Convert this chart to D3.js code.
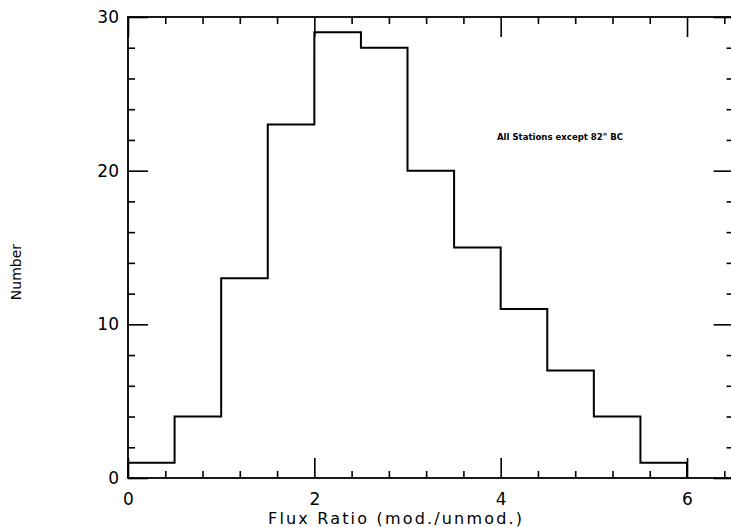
<!DOCTYPE html>
<html><head><meta charset="utf-8">
<script src="https://cdn.jsdelivr.net/npm/d3@7"></script>
<style>body{margin:0;background:#fff}svg{display:block}text{font-family:"DejaVu Sans",sans-serif;fill:#000}</style>
</head><body>
<svg id="c" width="731" height="527"></svg>
<script>
const binEdges = [0,0.5,1,1.5,2,2.5,3,3.5,4,4.5,5,5.5,6];
const counts = [1,4,13,23,29,28,20,15,11,7,4,1];
const xMajor = [0,2,4,6];
const xMinor = [0.4,0.8,1.2,1.6,2.4,2.8,3.2,3.6,4.4,4.8,5.2,5.6,6.4];
const yMajor = [0,10,20,30];
const yMinor = [2,4,6,8,12,14,16,18,22,24,26,28];
const xLabel = "Flux Ratio (mod./unmod.)";
const yLabel = "Number";
const note = "All Stations except 82\" BC";

const svg = d3.select("#c");
const x = d3.scaleLinear().domain([0,6.5]).range([128,733.6]);
const y = d3.scaleLinear().domain([0,30]).range([478,17]);
const L=128,R=733.6,T=17,B=478;

// frame
svg.append("rect").attr("x",L).attr("y",T).attr("width",R-L).attr("height",B-T)
  .attr("fill","none").attr("stroke","#000").attr("stroke-width",1.8);

function styleAxis(g){g.select(".domain").remove();g.selectAll("line").attr("stroke","#000").attr("stroke-width",1.6);}
// bottom
svg.append("g").attr("transform",`translate(0,${B})`).call(d3.axisBottom(x).tickValues(xMajor).tickSize(-20).tickPadding(11).tickFormat(d3.format("d")))
  .call(styleAxis).call(g=>g.selectAll("text").attr("font-size",17).attr("dy","0.95em"));
svg.append("g").attr("transform",`translate(0,${B})`).call(d3.axisBottom(x).tickValues(xMinor).tickSize(-7).tickFormat(""))
  .call(styleAxis);
// top
svg.append("g").attr("transform",`translate(0,${T})`).call(d3.axisTop(x).tickValues(xMajor).tickSize(-20).tickFormat(""))
  .call(styleAxis);
svg.append("g").attr("transform",`translate(0,${T})`).call(d3.axisTop(x).tickValues(xMinor).tickSize(-7).tickFormat(""))
  .call(styleAxis);
// left
svg.append("g").attr("transform",`translate(${L},0)`).call(d3.axisLeft(y).tickValues(yMajor).tickSize(-20).tickPadding(9).tickFormat(d3.format("d")))
  .call(styleAxis).call(g=>g.selectAll("text").attr("font-size",17));
svg.append("g").attr("transform",`translate(${L},0)`).call(d3.axisLeft(y).tickValues(yMinor).tickSize(-7).tickFormat(""))
  .call(styleAxis);
// right
svg.append("g").attr("transform",`translate(${R},0)`).call(d3.axisRight(y).tickValues(yMajor).tickSize(-20).tickFormat(""))
  .call(styleAxis);
svg.append("g").attr("transform",`translate(${R},0)`).call(d3.axisRight(y).tickValues(yMinor).tickSize(-7).tickFormat(""))
  .call(styleAxis);

// histogram step line
const pts = [[binEdges[0],0]];
counts.forEach((c,i)=>{pts.push([binEdges[i],c]);pts.push([binEdges[i+1],c]);});
pts.push([binEdges[binEdges.length-1],0]);
svg.append("path").datum(pts)
  .attr("d",d3.line().x(d=>x(d[0])).y(d=>y(d[1])))
  .attr("fill","none").attr("stroke","#000").attr("stroke-width",2);

// labels
svg.append("text").attr("x",268).attr("y",524).attr("font-size",16)
  .attr("textLength",254).attr("lengthAdjust","spacing").text(xLabel);
svg.append("text").attr("transform","translate(21,272) rotate(-90)").attr("text-anchor","middle")
  .attr("font-size",14).text(yLabel);
svg.append("text").attr("x",497).attr("y",140).attr("font-size",9).attr("font-weight","bold")
  .attr("textLength",126).attr("lengthAdjust","spacingAndGlyphs").text(note);
</script>
</body></html>
